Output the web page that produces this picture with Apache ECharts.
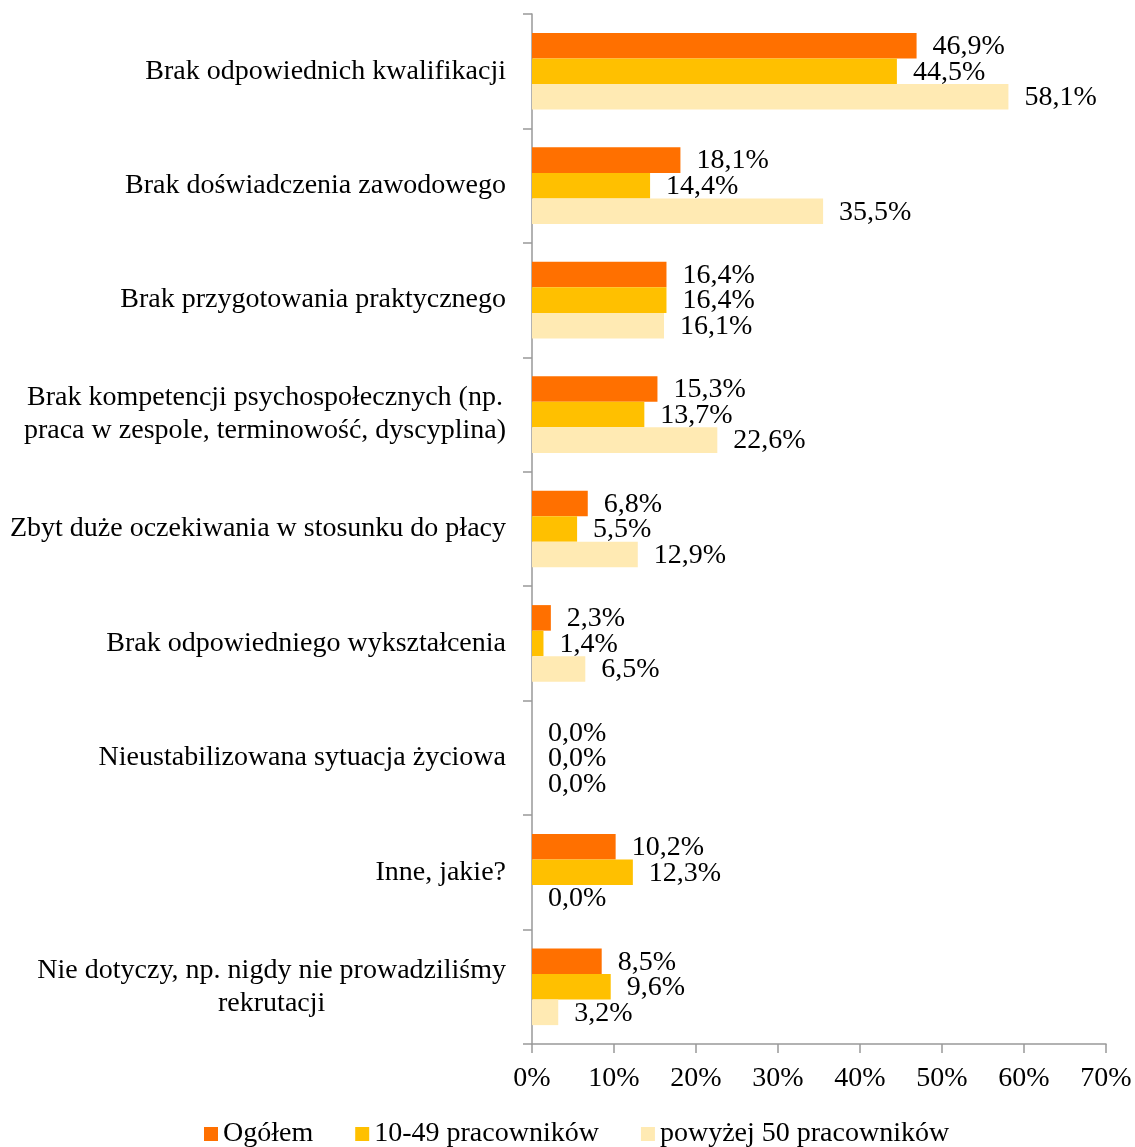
<!DOCTYPE html>
<html>
<head>
<meta charset="utf-8">
<title>Przyczyny trudności rekrutacyjnych</title>
<script src="https://cdn.jsdelivr.net/npm/echarts@6/dist/echarts.min.js"></script>
<style>
  html, body { margin: 0; padding: 0; background: #ffffff; }
  #chart { width: 1135px; height: 1147px; }
</style>
</head>
<body>
<div id="chart"></div>
<script>
// Categories (top to bottom) and the share for each group of firms, in %
const categories = [
  'Brak odpowiednich kwalifikacji',
  'Brak doświadczenia zawodowego',
  'Brak przygotowania praktycznego',
  'Brak kompetencji psychospołecznych (np.\npraca w zespole, terminowość, dyscyplina)',
  'Zbyt duże oczekiwania w stosunku do płacy',
  'Brak odpowiedniego wykształcenia',
  'Nieustabilizowana sytuacja życiowa',
  'Inne, jakie?',
  'Nie dotyczy, np. nigdy nie prowadziliśmy\nrekrutacji'
];
const seriesNames = ['Ogółem', '10-49 pracowników', 'powyżej 50 pracowników'];
const ogolem = [46.9, 18.1, 16.4, 15.3, 6.8, 2.3, 0.0, 10.2, 8.5];
const firmy10do49 = [44.5, 14.4, 16.4, 13.7, 5.5, 1.4, 0.0, 12.3, 9.6];
const firmyPowyzej50 = [58.1, 35.5, 16.1, 22.6, 12.9, 6.5, 0.0, 0.0, 3.2];
const axisTicks = [0, 10, 20, 30, 40, 50, 60, 70];

const FONT = '"Liberation Serif", "DejaVu Serif", serif';
const FS = 28;
const colors = ['#FF7000', '#FFC000', '#FFEAB3'];

const pct = v => v.toFixed(1).replace('.', ',') + '%';

function barSeries(name, data, color) {
  return {
    name: name,
    type: 'bar',
    data: data,
    barGap: '0%',
    barCategoryGap: '33%',
    itemStyle: { color: color },
    label: {
      show: true,
      position: 'right',
      distance: 16,
      offset: [0, 1],
      color: '#000',
      fontFamily: FONT,
      fontSize: FS,
      formatter: p => pct(p.value)
    },
    emphasis: { disabled: true },
    animation: false
  };
}

const chart = echarts.init(document.getElementById('chart'), null, { renderer: 'canvas' });
chart.setOption({
  backgroundColor: '#ffffff',
  animation: false,
  textStyle: { fontFamily: FONT },
  grid: { left: 532, right: 29, top: 14, bottom: 103, containLabel: false },
  legend: {
    data: seriesNames,
    left: 199,
    top: 1115,
    itemWidth: 14,
    itemHeight: 14,
    itemGap: 42,
    icon: 'rect',
    textStyle: { fontFamily: FONT, fontSize: FS, color: '#000' },
    selectedMode: false
  },
  xAxis: {
    type: 'value',
    min: axisTicks[0],
    max: axisTicks[axisTicks.length - 1],
    interval: axisTicks[1] - axisTicks[0],
    axisLine: { show: true, lineStyle: { color: '#999', width: 1.5 } },
    axisTick: { show: true, length: 9, lineStyle: { color: '#999', width: 1.5 } },
    splitLine: { show: false },
    axisLabel: {
      margin: 21,
      color: '#000',
      fontFamily: FONT,
      fontSize: FS,
      formatter: '{value}%'
    }
  },
  yAxis: {
    type: 'category',
    data: categories,
    inverse: true,
    axisLine: { show: true, lineStyle: { color: '#999', width: 1.5 } },
    axisTick: { show: true, length: 9, lineStyle: { color: '#999', width: 1.5 } },
    axisLabel: {
      margin: 26,
      color: '#000',
      fontFamily: FONT,
      fontSize: FS,
      lineHeight: 33,
      formatter: v => v.split('\n').map(l => '{c|' + l + '}').join('\n'),
      rich: {
        c: { align: 'center', fontFamily: FONT, fontSize: FS, lineHeight: 33, color: '#000' }
      }
    }
  },
  series: [
    barSeries(seriesNames[0], ogolem, colors[0]),
    barSeries(seriesNames[1], firmy10do49, colors[1]),
    barSeries(seriesNames[2], firmyPowyzej50, colors[2])
  ]
});
</script>
</body>
</html>
